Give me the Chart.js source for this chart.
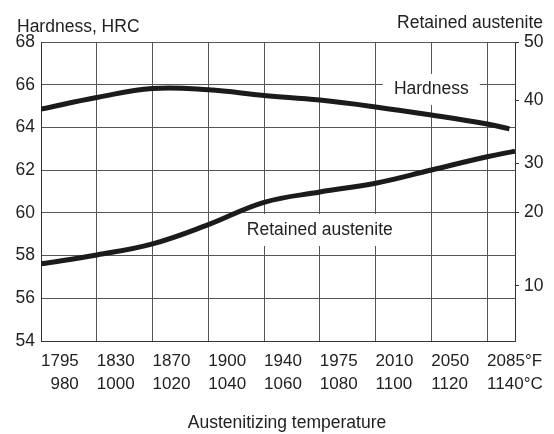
<!DOCTYPE html>
<html>
<head>
<meta charset="utf-8">
<script src="https://cdn.jsdelivr.net/npm/chart.js@4.4.1/dist/chart.umd.min.js"></script>
<style>
  html, body { margin: 0; padding: 0; background: #fff; }
  canvas { display: block; }
</style>
</head>
<body>
<canvas id="chart" width="554" height="434"></canvas>
<script>
// tick labels along the bottom (°F on top, °C below)
const tickC = [980, 1000, 1020, 1040, 1060, 1080, 1100, 1120, 1140];
const tickF = ['1795', '1830', '1870', '1900', '1940', '1975', '2010', '2050', '2085°F'];
const hrcTicks = [54, 56, 58, 60, 62, 64, 66, 68];
const raTicks = [10, 20, 30, 40, 50];

// hardness, HRC vs austenitizing temperature (°C)
const hardnessTemp = [980, 1000, 1020, 1040, 1060, 1080, 1100, 1120, 1140, 1148];
const hardnessHRC  = [64.86, 65.4, 65.82, 65.76, 65.5, 65.28, 64.96, 64.58, 64.16, 63.93];

// retained austenite, % vs austenitizing temperature (°C)
const raTemp = [980, 1000, 1020, 1040, 1060, 1080, 1100, 1120, 1140, 1150];
const raPct  = [13.0, 14.2, 15.7, 18.3, 22.0, 24.1, 25.9, 28.6, 31.0, 31.9];

// the right-hand axis of the original is not evenly spaced:
// value -> fraction of the axis height measured from the bottom
const raAxisValue = [2.5, 10, 20, 30, 40, 50];
const raAxisFrac  = [0, 0.184, 0.431, 0.595, 0.806, 1];

function interp(v, xs, ys) {
  if (v <= xs[0]) return ys[0] + (v - xs[0]) * (ys[1] - ys[0]) / (xs[1] - xs[0]);
  for (let i = 1; i < xs.length; i++) {
    if (v <= xs[i]) return ys[i - 1] + (v - xs[i - 1]) * (ys[i] - ys[i - 1]) / (xs[i] - xs[i - 1]);
  }
  const n = xs.length - 1;
  return ys[n] + (v - xs[n]) * (ys[n] - ys[n - 1]) / (xs[n] - xs[n - 1]);
}

class AusteniteScale extends Chart.LinearScale {
  getPixelForValue(value) {
    return this.getPixelForDecimal(interp(value, raAxisValue, raAxisFrac));
  }
  getValueForPixel(pixel) {
    return interp(this.getDecimalForPixel(pixel), raAxisFrac, raAxisValue);
  }
}
AusteniteScale.id = 'austenite';
AusteniteScale.defaults = Chart.LinearScale.defaults;
Chart.register(AusteniteScale);

const FONT = '"Liberation Sans", Arial, sans-serif';
const INK = '#222';
const GRID = '#555';

Chart.defaults.font.family = FONT;
Chart.defaults.font.size = 17;
Chart.defaults.color = INK;

const curveLabels = {
  id: 'curveLabels',
  beforeDatasetsDraw(chart) {
    const { ctx, scales: { x, y } } = chart;
    const items = [
      { text: 'Hardness', temp: 1120, hrc: 65.78, w: 97, h: 31 },
      { text: 'Retained austenite', temp: 1080, hrc: 59.2, w: 160, h: 32 }
    ];
    ctx.save();
    ctx.font = '17.5px ' + FONT;
    ctx.textAlign = 'center';
    ctx.textBaseline = 'middle';
    items.forEach(it => {
      const px = x.getPixelForValue(it.temp);
      const py = y.getPixelForValue(it.hrc);
      ctx.fillStyle = '#fff';
      ctx.fillRect(px - it.w / 2, py - it.h / 2, it.w, it.h);
      ctx.fillStyle = INK;
      ctx.fillText(it.text, px, py);
    });
    ctx.restore();
  },
  afterDraw(chart) {
    const { ctx, chartArea } = chart;
    ctx.save();
    ctx.font = '17.5px ' + FONT;
    ctx.fillStyle = INK;
    ctx.textBaseline = 'alphabetic';
    ctx.textAlign = 'left';
    ctx.fillText('Hardness, HRC', chartArea.left - 24, chartArea.top - 10);
    ctx.textAlign = 'right';
    ctx.fillText('Retained austenite', chartArea.right + 28, chartArea.top - 14);
    ctx.textAlign = 'center';
    ctx.textBaseline = 'middle';
    ctx.fillText('Austenitizing temperature', (chartArea.left + chartArea.right) / 2 + 9, chart.height - 10.5);
    ctx.restore();
  }
};

const lineStyle = {
  borderColor: '#1b1b1b',
  borderWidth: 5,
  pointRadius: 0,
  fill: false,
  tension: 0.4,
  borderCapStyle: 'butt'
};

new Chart(document.getElementById('chart'), {
  type: 'line',
  data: {
    datasets: [
      Object.assign({
        label: 'Hardness',
        yAxisID: 'y',
        data: hardnessTemp.map((t, i) => ({ x: t, y: hardnessHRC[i] }))
      }, lineStyle),
      Object.assign({
        label: 'Retained austenite',
        yAxisID: 'y2',
        data: raTemp.map((t, i) => ({ x: t, y: raPct[i] }))
      }, lineStyle)
    ]
  },
  options: {
    responsive: false,
    animation: false,
    devicePixelRatio: 1,
    layout: { padding: { top: 42, left: 0, right: 0, bottom: 0 } },
    plugins: {
      legend: { display: false },
      tooltip: { enabled: false }
    },
    scales: {
      x: {
        type: 'linear',
        position: 'bottom',
        min: 980,
        max: 1150,
        afterBuildTicks: s => { s.ticks = tickC.map(v => ({ value: v })); },
        afterFit: s => { s.height = 93; },
        grid: { color: GRID, lineWidth: 1, drawTicks: false },
        border: { display: true, color: '#333', width: 1 },
        ticks: {
          autoSkip: false,
          maxRotation: 0,
          align: 'start',
          padding: 8,
          font: { size: 17, lineHeight: 1.4 },
          callback: (v, i) => {
            const c = i === tickC.length - 1 ? tickC[i] + '°C' : String(tickC[i]);
            const pad = c.length < tickF[i].length ? '  '.repeat(tickF[i].length - c.length) : '';
            return [tickF[i], pad + c];
          }
        },
        title: { display: false }
      },
      y: {
        type: 'linear',
        position: 'left',
        min: 54,
        max: 68,
        afterBuildTicks: s => { s.ticks = hrcTicks.map(v => ({ value: v })); },
        afterFit: s => { s.width = 41; },
        grid: { color: GRID, lineWidth: 1, drawTicks: false },
        border: { display: true, color: '#333', width: 1 },
        ticks: { padding: 6, font: { size: 17.5 } }
      },
      y2: {
        type: 'austenite',
        position: 'right',
        min: 2.5,
        max: 50,
        afterBuildTicks: s => { s.ticks = raTicks.map(v => ({ value: v })); },
        afterFit: s => { s.width = 39; },
        grid: { drawOnChartArea: false, drawTicks: true, tickLength: 4, color: '#333', lineWidth: 1 },
        border: { display: true, color: '#333', width: 1 },
        ticks: { padding: 5, font: { size: 17.5 } }
      }
    }
  },
  plugins: [curveLabels]
});
</script>
</body>
</html>
